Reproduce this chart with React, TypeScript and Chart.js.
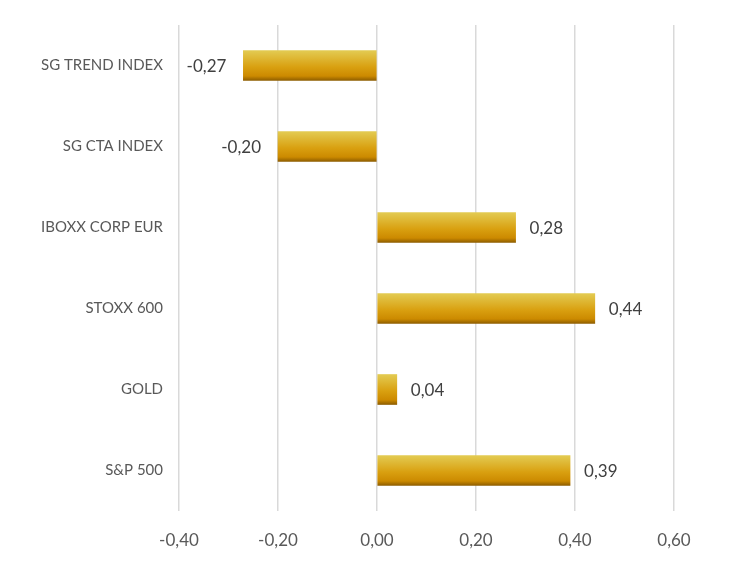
import React, { useEffect, useRef } from "react";
import { Chart, registerables } from "chart.js";

Chart.register(...registerables);

const categories = ["SG TREND INDEX", "SG CTA INDEX", "IBOXX CORP EUR", "STOXX 600", "GOLD", "S&P 500"];
const values = [-0.27, -0.2, 0.28, 0.44, 0.04, 0.39];
const xTicks = [-0.4, -0.2, 0, 0.2, 0.4, 0.6];

const FONT = "Lato, 'Open Sans', sans-serif";
const BAR_H = 30;
const fmt = (v: number) => v.toFixed(2).replace(".", ",");

const barFill = (c: any) => {
  const chart = c.chart;
  const yScale = chart.scales && chart.scales.y;
  if (!yScale || !chart.chartArea || c.dataIndex === undefined) return "#D9A010";
  const cy = yScale.getPixelForValue(c.dataIndex);
  const top = cy - BAR_H / 2;
  const bottom = cy + BAR_H / 2;
  const g = chart.ctx.createLinearGradient(0, top, 0, bottom);
  g.addColorStop(0, "#E3CB52");
  g.addColorStop(0.55, "#D9A010");
  g.addColorStop(0.85, "#CC8A00");
  g.addColorStop(1, "#8F5E00");
  return g;
};

const labelPlugin = {
  id: "valueLabels",
  afterDatasetsDraw(chart: any) {
    const ctx = chart.ctx;
    const meta = chart.getDatasetMeta(0);
    ctx.save();
    ctx.font = `17px ${FONT}`;
    ctx.fillStyle = "#404040";
    ctx.textBaseline = "middle";
    meta.data.forEach((el: any, i: number) => {
      const v = values[i];
      if (v < 0) {
        ctx.textAlign = "right";
        ctx.fillText(fmt(v), el.x - 17, el.y + 1);
      } else {
        ctx.textAlign = "left";
        ctx.fillText(fmt(v), el.x + 14, el.y + 1);
      }
    });
    ctx.restore();
  },
};

export default function App() {
  const ref = useRef<HTMLCanvasElement | null>(null);
  useEffect(() => {
    document.body.style.margin = "0";
    if (!ref.current) return;
    const chart = new Chart(ref.current, {
      type: "bar",
      data: {
        labels: categories,
        datasets: [
          {
            data: values,
            backgroundColor: barFill,
            barThickness: BAR_H,
            borderWidth: 0,
          },
        ],
      },
      options: {
        indexAxis: "y",
        animation: false,
        responsive: false,
        maintainAspectRatio: false,
        layout: { padding: { top: 22, right: 60, left: 0, bottom: 0 } },
        plugins: { legend: { display: false }, tooltip: { enabled: false } },
        scales: {
          x: {
            min: -0.4,
            max: 0.6,
            afterBuildTicks: (s: any) => {
              s.ticks = xTicks.map((v) => ({ value: v }));
            },
            afterFit: (s: any) => {
              s.height = 52;
            },
            grid: { color: "#d9d9d9", lineWidth: 1.5, drawTicks: false },
            border: { display: false },
            ticks: {
              padding: 19,
              color: "#595959",
              font: { family: FONT, size: 17 },
              callback: (v: any) => fmt(Number(v)),
            },
          },
          y: {
            afterFit: (s: any) => {
              s.width = 179;
            },
            grid: { display: false, drawTicks: false },
            border: { display: false },
            ticks: {
              padding: 16,
              color: "#595959",
              font: { family: FONT, size: 15 },
            },
          },
        },
      },
      plugins: [labelPlugin],
    });
    chart.update();
    return () => chart.destroy();
  }, []);
  return (
    <div style={{ width: 734, height: 563 }}>
      <canvas ref={ref} width={734} height={563} style={{ display: "block" }} />
    </div>
  );
}
